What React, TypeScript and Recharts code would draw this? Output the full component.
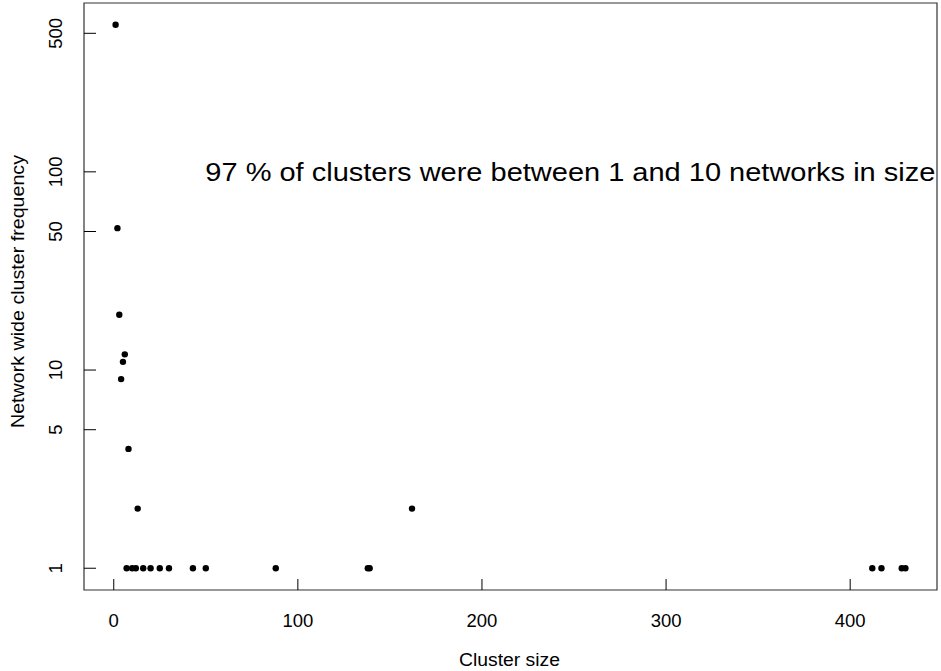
import { ScatterChart, Scatter, XAxis, YAxis, ReferenceArea, ReferenceDot } from "recharts";

// cluster size (networks) vs how often that size occurs
const clusterSize = [1, 2, 3, 4, 5, 6, 8, 13, 7, 10, 12, 16, 20, 25, 30, 43, 50, 88, 138, 139, 162, 412, 417, 428, 430];
const frequency = [552, 52, 19, 9, 11, 12, 4, 2, 1, 1, 1, 1, 1, 1, 1, 1, 1, 1, 1, 1, 2, 1, 1, 1, 1];

const xTicks = [0, 100, 200, 300, 400];
const yTicks = [1, 5, 10, 50, 100, 500];

const note = "97 % of clusters were between 1 and 10 networks in size";
const noteAt = { x: 248, y: 100 };

const points = clusterSize.map((s, i) => ({ size: s, freq: frequency[i] }));

const FONT = "'Liberation Sans', Arial, sans-serif";

const XTick = ({ x, y, payload }: any) => (
  <g>
    <line x1={x} x2={x} y1={y} y2={y - 11} stroke="#000" />
    <text x={x} y={y + 37} textAnchor="middle" fontSize={18.5} fontFamily={FONT} fill="#000">
      {payload.value}
    </text>
  </g>
);

const YTick = ({ x, y, payload }: any) => (
  <g>
    <line x1={x} x2={x + 12} y1={y} y2={y} stroke="#000" />
    <text
      x={x - 22}
      y={y}
      transform={`rotate(-90 ${x - 22} ${y})`}
      textAnchor="middle"
      fontSize={18.5}
      fontFamily={FONT}
      fill="#000"
    >
      {payload.value}
    </text>
  </g>
);

export default function App() {
  return (
    <div style={{ position: "absolute", left: 0, top: 0, background: "#fff" }}>
      <ScatterChart width={941} height={671} margin={{ top: 3, right: 4, bottom: 0, left: 0 }}>
        <XAxis
          type="number"
          dataKey="size"
          domain={[-16.16, 447.16]}
          allowDataOverflow
          ticks={xTicks}
          axisLine={false}
          tickLine={false}
          tickSize={0}
          tickMargin={0}
          height={81}
          tick={<XTick />}
          label={{
            content: () => (
              <text
                x={509.5}
                y={666}
                textAnchor="middle"
                fontSize={18}
                fontFamily={FONT}
                fill="#000"
                textLength={101}
                lengthAdjust="spacingAndGlyphs"
              >
                Cluster size
              </text>
            ),
          }}
        />
        <YAxis
          type="number"
          dataKey="freq"
          scale="log"
          domain={[0.7767, 711]}
          allowDataOverflow
          ticks={yTicks}
          axisLine={false}
          tickLine={false}
          tickSize={0}
          tickMargin={0}
          width={84}
          tick={<YTick />}
          label={{
            content: () => (
              <text
                x={24}
                y={291.5}
                transform="rotate(-90 24 291.5)"
                textAnchor="middle"
                fontSize={18}
                fontFamily={FONT}
                fill="#000"
                textLength={273}
                lengthAdjust="spacingAndGlyphs"
              >
                Network wide cluster frequency
              </text>
            ),
          }}
        />
        <ReferenceArea x1={-16.16} x2={447.16} y1={0.7767} y2={711} fill="none" stroke="#333" strokeWidth={1.2} />
        <Scatter data={points} fill="#000" isAnimationActive={false} shape={(p: any) => <circle cx={p.cx} cy={p.cy} r={3.2} fill="#000" />} />
        <ReferenceDot
          x={noteAt.x}
          y={noteAt.y}
          r={0}
          shape={(p: any) => (
            <text
              x={p.cx}
              y={p.cy}
              dy="0.36em"
              textAnchor="middle"
              fontSize={26.5}
              fontFamily={FONT}
              fill="#000"
              textLength={730}
              lengthAdjust="spacingAndGlyphs"
            >
              {note}
            </text>
          )}
        />
      </ScatterChart>
    </div>
  );
}
